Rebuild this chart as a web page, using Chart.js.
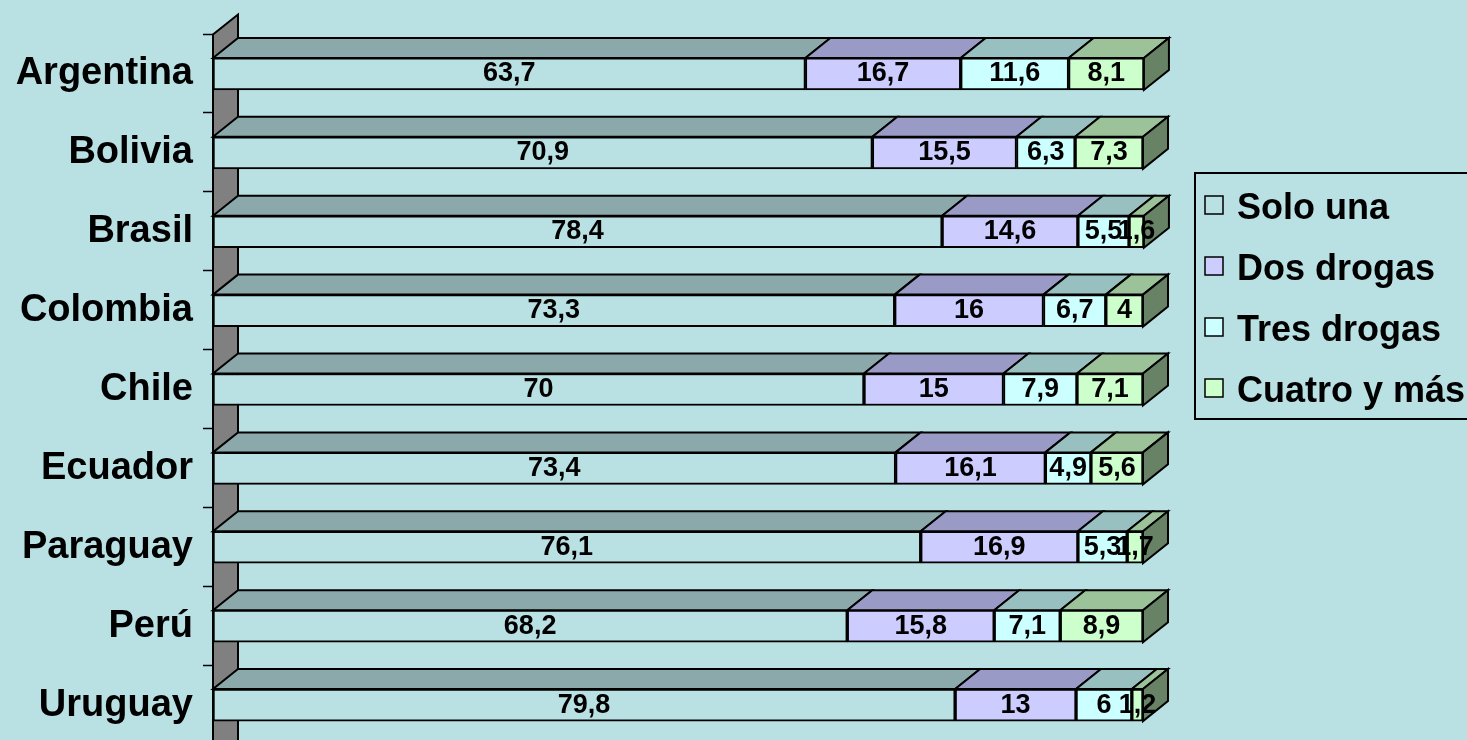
<!DOCTYPE html>
<html>
<head>
<meta charset="utf-8">
<title>Cantidad de drogas</title>
<script src="https://cdn.jsdelivr.net/npm/chart.js@4/dist/chart.umd.min.js"></script>
<style>
  html, body { margin: 0; padding: 0; background: #B9E0E3; overflow: hidden; }
  canvas { display: block; }
</style>
</head>
<body>
<canvas id="chart" width="1467" height="760"></canvas>
<script>
'use strict';

/* ─── Data ─── */
const countries  = ['Argentina', 'Bolivia', 'Brasil', 'Colombia', 'Chile', 'Ecuador', 'Paraguay', 'Perú', 'Uruguay'];
const soloUna    = [63.7, 70.9, 78.4, 73.3, 70, 73.4, 76.1, 68.2, 79.8];
const dosDrogas  = [16.7, 15.5, 14.6, 16, 15, 16.1, 16.9, 15.8, 13];
const tresDrogas = [11.6, 6.3, 5.5, 6.7, 7.9, 4.9, 5.3, 7.1, 6];
const cuatroMas  = [8.1, 7.3, 1.6, 4, 7.1, 5.6, 1.7, 8.9, 1.2];
const seriesNames = ['Solo una', 'Dos drogas', 'Tres drogas', 'Cuatro y más'];

/* ─── Colours: front / top / side ─── */
const BG     = '#B9E0E3';
const FRONT  = [BG, '#CCCCFF', '#CCFFFF', '#CCFFCC'];
const TOP    = ['#8BA8AA', '#9A9AC6', '#99C0C0', '#9CC29A'];
const SIDE   = '#688266';
const WALL   = '#808080';
const FONT   = '"Liberation Sans", Arial, sans-serif';

const DX = 25;   // depth offset
const DY = 20;

const fmt = v => String(v).replace('.', ',');

/* ─── 3D faces, wall, labels, legend ─── */
const threeD = {
  id: 'threeD',

  beforeDatasetsDraw(chart) {
    const { ctx, chartArea } = chart;
    const canvasH = chart.height;

    ctx.save();
    ctx.lineWidth = 2;
    ctx.strokeStyle = '#000';
    ctx.lineJoin = 'miter';

    // left wall
    ctx.beginPath();
    ctx.moveTo(chartArea.left, canvasH + 10);
    ctx.lineTo(chartArea.left, chartArea.top);
    ctx.lineTo(chartArea.left + DX, chartArea.top - DY);
    ctx.lineTo(chartArea.left + DX, canvasH + 10);
    ctx.closePath();
    ctx.fillStyle = WALL;
    ctx.fill();
    ctx.stroke();

    // top faces and end face
    const last = chart.data.datasets.length - 1;
    chart.data.datasets.forEach((ds, di) => {
      const meta = chart.getDatasetMeta(di);
      meta.data.forEach(bar => {
        const p = bar.getProps(['x', 'y', 'base', 'height'], true);
        const top = p.y - p.height / 2;
        const bottom = p.y + p.height / 2;

        ctx.beginPath();
        ctx.moveTo(p.base, top);
        ctx.lineTo(p.base + DX, top - DY);
        ctx.lineTo(p.x + DX, top - DY);
        ctx.lineTo(p.x, top);
        ctx.closePath();
        ctx.fillStyle = TOP[di];
        ctx.fill();
        ctx.stroke();

        if (di === last) {
          ctx.beginPath();
          ctx.moveTo(p.x, top);
          ctx.lineTo(p.x + DX, top - DY);
          ctx.lineTo(p.x + DX, bottom - DY);
          ctx.lineTo(p.x, bottom);
          ctx.closePath();
          ctx.fillStyle = SIDE;
          ctx.fill();
          ctx.stroke();
        }
      });
    });
    ctx.restore();
  },

  afterDatasetsDraw(chart) {
    const { ctx } = chart;
    ctx.save();
    ctx.fillStyle = '#000';
    ctx.font = 'bold 27px ' + FONT;
    ctx.textAlign = 'center';
    ctx.textBaseline = 'middle';
    chart.data.datasets.forEach((ds, di) => {
      chart.getDatasetMeta(di).data.forEach((bar, i) => {
        const p = bar.getProps(['x', 'y', 'base'], true);
        ctx.fillText(fmt(ds.data[i]), (p.x + p.base) / 2, p.y);
      });
    });
    ctx.restore();
  },

  afterDraw(chart) {
    const { ctx, chartArea } = chart;
    const yScale = chart.scales.y;
    const left = chartArea.left;

    ctx.save();

    // category ticks at boundaries
    ctx.strokeStyle = '#000';
    ctx.lineWidth = 1.5;
    const n = countries.length;
    const step = (yScale.getPixelForValue(n - 1) - yScale.getPixelForValue(0)) / (n - 1);
    for (let k = 0; k <= n; k++) {
      const y = Math.round(yScale.getPixelForValue(0) - step / 2 + k * step) - 0.5;
      ctx.beginPath();
      ctx.moveTo(left - 10, y);
      ctx.lineTo(left, y);
      ctx.stroke();
    }

    // category labels
    ctx.fillStyle = '#000';
    ctx.font = 'bold 38px ' + FONT;
    ctx.textAlign = 'right';
    ctx.textBaseline = 'middle';
    countries.forEach((c, i) => {
      ctx.fillText(c, left - 20, yScale.getPixelForValue(i));
    });

    // legend
    ctx.lineWidth = 2;
    ctx.strokeRect(1195, 173, 300, 246);
    ctx.font = 'bold 36px ' + FONT;
    ctx.textAlign = 'left';
    seriesNames.forEach((name, i) => {
      const cy = 208 + i * 61;
      ctx.fillStyle = FRONT[i];
      ctx.fillRect(1205, cy - 12, 18, 18);
      ctx.lineWidth = 1.5;
      ctx.strokeRect(1205, cy - 12, 18, 18);
      ctx.fillStyle = '#000';
      ctx.fillText(name, 1237, cy + 1);
    });

    ctx.restore();
  }
};

/* ─── Chart ─── */
const datasets = [soloUna, dosDrogas, tresDrogas, cuatroMas].map((data, i) => ({
  label: seriesNames[i],
  data,
  backgroundColor: FRONT[i],
  borderColor: '#000',
  borderWidth: 2,
  borderSkipped: false,
  barThickness: 32
}));

new Chart(document.getElementById('chart'), {
  type: 'bar',
  data: { labels: countries, datasets },
  options: {
    indexAxis: 'y',
    responsive: false,
    animation: false,
    layout: { padding: { left: 213, right: 324, top: 34.5, bottom: 15.5 } },
    plugins: {
      legend: { display: false },
      tooltip: { enabled: false }
    },
    scales: {
      x: { stacked: true, min: 0, max: 100, display: false },
      y: { stacked: true, display: false }
    }
  },
  plugins: [threeD]
});
</script>
</body>
</html>
